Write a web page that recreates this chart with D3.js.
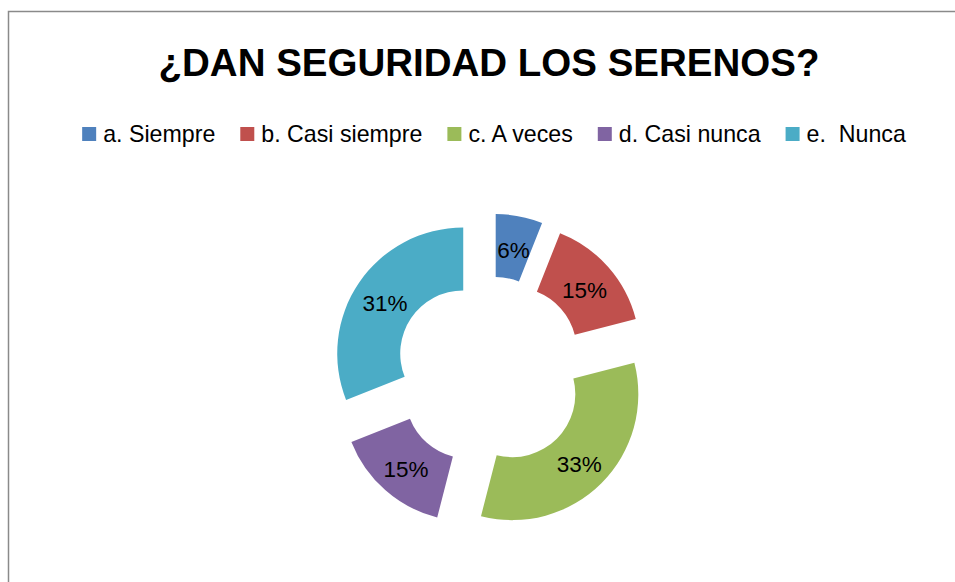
<!DOCTYPE html>
<html>
<head>
<meta charset="utf-8">
<script src="https://cdn.jsdelivr.net/npm/d3@7"></script>
<style>
  html, body { margin: 0; padding: 0; background: #ffffff; }
  svg { display: block; }
</style>
</head>
<body>
<div id="chart"></div>
<script>
// ---- data ----
const titleText = "¿DAN SEGURIDAD LOS SERENOS?";
const categories = ["a. Siempre", "b. Casi siempre", "c. A veces", "d. Casi nunca", "e.  Nunca"];
const percentages = [6, 15, 33, 15, 31];
const colors = ["#4F81BD", "#C0504D", "#9BBB59", "#8064A2", "#4BACC6"];

// ---- layout ----
const W = 955, H = 582;
const cx = 489.7, cy = 371.5;
const outerR = 126, innerR = 63, explode = 32;
const font = "'Liberation Sans', Arial, sans-serif";

const svg = d3.select("#chart").append("svg")
  .attr("width", W).attr("height", H);

// chart frame (extends beyond the visible area on right and bottom)
svg.append("rect")
  .attr("x", 8.5).attr("y", 11.5)
  .attr("width", W + 50).attr("height", H + 50)
  .attr("fill", "#ffffff")
  .attr("stroke", "#8a8a8a").attr("stroke-width", 1.5);

// title
svg.append("text")
  .attr("x", 489).attr("y", 76)
  .attr("text-anchor", "middle")
  .attr("font-family", font)
  .attr("font-weight", "bold")
  .attr("font-size", 38.5)
  .attr("fill", "#000")
  .text(titleText);

// legend
const legendFont = 23.2;
const sq = 14, sqToText = 21, itemGap = 25;
const legend = svg.append("g");
const items = legend.selectAll("g.item")
  .data(categories)
  .join("g").attr("class", "item");
items.append("rect")
  .attr("width", sq).attr("height", sq)
  .attr("y", 127)
  .attr("fill", (d, i) => colors[i]);
items.append("text")
  .attr("x", sqToText).attr("y", 141.5)
  .attr("font-family", font)
  .attr("font-size", legendFont)
  .attr("fill", "#000")
  .attr("xml:space", "preserve")
  .style("white-space", "pre")
  .text(d => d);
let xPos = 0;
const offsets = [];
items.each(function () {
  const tw = d3.select(this).select("text").node().getComputedTextLength();
  offsets.push(xPos);
  xPos += sqToText + tw + itemGap;
});
const totalW = xPos - itemGap;
const legendStart = 494 - totalW / 2;
items.attr("transform", (d, i) => `translate(${legendStart + offsets[i]},0)`);

// doughnut
const pie = d3.pie().sort(null).value(d => d)(percentages);
const arc = d3.arc().innerRadius(innerR).outerRadius(outerR);
const g = svg.append("g").attr("transform", `translate(${cx},${cy})`);
const slices = g.selectAll("g.slice")
  .data(pie)
  .join("g").attr("class", "slice")
  .attr("transform", d => {
    const a = (d.startAngle + d.endAngle) / 2;
    return `translate(${explode * Math.sin(a)},${-explode * Math.cos(a)})`;
  });
slices.append("path")
  .attr("d", arc)
  .attr("fill", (d, i) => colors[i]);
slices.append("text")
  .attr("transform", d => {
    const c = arc.centroid(d);
    return `translate(${c[0]},${c[1] + 2.5})`;
  })
  .attr("text-anchor", "middle")
  .attr("dy", "0.36em")
  .attr("font-family", font)
  .attr("font-size", 22.5)
  .attr("fill", "#000")
  .text(d => d.data + "%");
</script>
</body>
</html>
